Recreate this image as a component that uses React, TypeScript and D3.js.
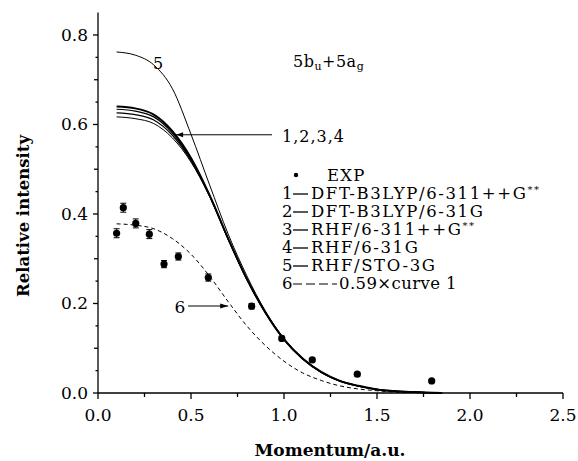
import React from 'react';
import * as d3 from 'd3';

// momentum grid (a.u.) shared by the calculated curves
const momentum = [0.1, 0.2, 0.3, 0.4, 0.5, 0.6, 0.7, 0.8, 0.9, 1.0, 1.1, 1.2, 1.3, 1.4, 1.5, 1.6, 1.7, 1.8, 1.85];

const curve1 = [0.640, 0.636, 0.622, 0.585, 0.525, 0.442, 0.345, 0.255, 0.180, 0.120, 0.077, 0.047, 0.027, 0.016, 0.008, 0.004, 0.002, 0.0005, 0];
const curve2 = [0.634, 0.630, 0.617, 0.581, 0.522, 0.441, 0.344, 0.254, 0.179, 0.119, 0.076, 0.046, 0.027, 0.015, 0.008, 0.004, 0.002, 0.0005, 0];
const curve3 = [0.626, 0.622, 0.610, 0.576, 0.519, 0.440, 0.344, 0.255, 0.180, 0.120, 0.077, 0.047, 0.027, 0.016, 0.008, 0.004, 0.002, 0.0005, 0];
const curve4 = [0.617, 0.613, 0.602, 0.570, 0.516, 0.439, 0.343, 0.254, 0.179, 0.119, 0.076, 0.046, 0.026, 0.015, 0.008, 0.004, 0.002, 0.0005, 0];
const curve5 = [0.762, 0.755, 0.733, 0.680, 0.578, 0.465, 0.355, 0.262, 0.183, 0.122, 0.078, 0.047, 0.027, 0.016, 0.008, 0.004, 0.002, 0.0005, 0];
const curve6 = [0.378, 0.375, 0.367, 0.345, 0.310, 0.261, 0.204, 0.150, 0.106, 0.071, 0.045, 0.028, 0.016, 0.009, 0.005, 0.002, 0.001, 0.0003, 0];

// experimental points
const expX = [0.10, 0.136, 0.203, 0.276, 0.355, 0.432, 0.593, 0.826, 0.988, 1.152, 1.394, 1.794];
const expY = [0.357, 0.414, 0.379, 0.355, 0.288, 0.305, 0.258, 0.194, 0.122, 0.074, 0.042, 0.027];
const expErr = [0.010, 0.010, 0.010, 0.010, 0.008, 0.008, 0.008, 0.006, 0.005, 0.004, 0.004, 0.003];

const xTicks = [0, 0.5, 1.0, 1.5, 2.0, 2.5];
const yTicks = [0, 0.2, 0.4, 0.6, 0.8];

const legendLabels = ['DFT-B3LYP/6-311++G', 'DFT-B3LYP/6-31G', 'RHF/6-311++G', 'RHF/6-31G', 'RHF/STO-3G', '0.59\u00d7curve 1'];
const legendStars = [true, false, true, false, false, false];

const W = 578;
const H = 461;
const FONT = '"DejaVu Serif", serif';

export default function App() {
  const x = d3.scaleLinear().domain([0, 2.5]).range([98, 563]);
  const y = d3.scaleLinear().domain([0, 0.85]).range([393, 12.6]);

  const line = d3.line<[number, number]>()
    .x(d => x(d[0]))
    .y(d => y(d[1]))
    .curve(d3.curveMonotoneX);
  const path = (vals: number[]) => line(momentum.map((m, i) => [m, vals[i]]) as [number, number][]) || '';

  const curves = [
    { v: curve4, w: 1 },
    { v: curve3, w: 1.2 },
    { v: curve2, w: 1.2 },
    { v: curve1, w: 2 },
    { v: curve5, w: 1 },
  ];

  const xMinor = d3.range(0, 2.51, 0.25).filter(t => !xTicks.some(m => Math.abs(m - t) < 1e-6));
  const yMid = [0.1, 0.3, 0.5, 0.7];
  const yMinor = d3.range(0.05, 0.85, 0.1);

  const legX = 282;
  const legRows = [199, 217, 235, 253, 271, 289];

  return (
    <div style={{ position: 'absolute', left: 0, top: 0 }}>
      <svg width={W} height={H} style={{ display: 'block', background: '#fff' }} fontFamily={FONT}>
        {/* axes */}
        <g stroke="#000" strokeWidth={1.3} fill="none">
          <line x1={x(0)} x2={x(0)} y1={y(0)} y2={y(0.85)} />
          <line x1={x(0)} x2={x(2.5)} y1={y(0)} y2={y(0)} />
          {yTicks.map(t => <line key={'ym' + t} x1={x(0) - 5} x2={x(0)} y1={y(t)} y2={y(t)} />)}
          {yMid.map(t => <line key={'yd' + t} x1={x(0) - 4} x2={x(0)} y1={y(t)} y2={y(t)} />)}
          {yMinor.map(t => <line key={'yn' + t} x1={x(0) - 2.5} x2={x(0)} y1={y(t)} y2={y(t)} />)}
          {xTicks.map(t => <line key={'xm' + t} x1={x(t)} x2={x(t)} y1={y(0)} y2={y(0) + 6} />)}
          {xMinor.map(t => <line key={'xn' + t} x1={x(t)} x2={x(t)} y1={y(0)} y2={y(0) + 4} />)}
        </g>
        <g fontSize={17} fill="#000">
          {yTicks.map(t => (
            <text key={'yl' + t} x={x(0) - 10} y={y(t) + 6} textAnchor="end">{t.toFixed(1)}</text>
          ))}
          {xTicks.map(t => (
            <text key={'xl' + t} x={x(t)} y={y(0) + 28} textAnchor="middle">{t.toFixed(1)}</text>
          ))}
        </g>
        <text x={330} y={456} textAnchor="middle" fontSize={17} fontWeight="bold">Momentum/a.u.</text>
        <text transform="translate(29,216) rotate(-90)" textAnchor="middle" fontSize={16.5} fontWeight="bold">Relative intensity</text>

        {/* calculated curves */}
        <g fill="none" stroke="#000">
          {curves.map((c, i) => <path key={i} d={path(c.v)} strokeWidth={c.w} />)}
          <path d={path(curve6)} strokeWidth={1} strokeDasharray="4,3" />
        </g>

        {/* experiment */}
        <g fill="#000" stroke="#000">
          {expX.map((v, i) => (
            <g key={i}>
              <line x1={x(v)} x2={x(v)} y1={y(expY[i] - expErr[i])} y2={y(expY[i] + expErr[i])} strokeWidth={1} />
              <line x1={x(v) - 3} x2={x(v) + 3} y1={y(expY[i] - expErr[i])} y2={y(expY[i] - expErr[i])} strokeWidth={1} />
              <line x1={x(v) - 3} x2={x(v) + 3} y1={y(expY[i] + expErr[i])} y2={y(expY[i] + expErr[i])} strokeWidth={1} />
              <circle cx={x(v)} cy={y(expY[i])} r={3.6} stroke="none" />
            </g>
          ))}
        </g>

        {/* annotations */}
        <text x={158} y={69} textAnchor="middle" fontSize={16}>5</text>
        <text x={293} y={67} fontSize={16} letterSpacing={0.5}>
          5b<tspan fontSize={11} dy={3}>u</tspan><tspan dy={-3}>+5a</tspan><tspan fontSize={11} dy={3}>g</tspan>
        </text>
        <line x1={x(0.42)} x2={272} y1={y(0.577)} y2={y(0.577)} stroke="#000" strokeWidth={1} />
        <path d={`M${x(0.42)},${y(0.577)} l7,-2.5 l0,5 z`} fill="#000" />
        <text x={282} y={142} fontSize={16} letterSpacing={1}>1,2,3,4</text>

        <text x={180} y={313} textAnchor="middle" fontSize={17}>6</text>
        <line x1={188} x2={x(0.7)} y1={306} y2={306} stroke="#000" strokeWidth={1} />
        <path d={`M${x(0.7)},306 l-8,-2.5 l0,5 z`} fill="#000" />

        {/* legend */}
        <g fontSize={16.5} fill="#000">
          <circle cx={296} cy={175} r={2.2} />
          <text x={327} y={181} letterSpacing={1.2}>EXP</text>
          {legendLabels.map((lab, i) => (
            <g key={lab}>
              <text x={legX} y={legRows[i]}>{i + 1}</text>
              {i < 5 ? (
                <line x1={293} x2={308} y1={legRows[i] - 5} y2={legRows[i] - 5} stroke="#000" strokeWidth={1.3} />
              ) : (
                <line x1={293} x2={337} y1={legRows[i] - 5} y2={legRows[i] - 5} stroke="#000" strokeWidth={1.2} strokeDasharray="9,4" />
              )}
              <text x={i < 5 ? 311 : 339} y={legRows[i]} letterSpacing={i < 5 ? 1.6 : 0.4}>
                {lab}{legendStars[i] ? <tspan fontSize={10} dy={-6}>**</tspan> : null}
              </text>
            </g>
          ))}
        </g>
      </svg>
    </div>
  );
}
